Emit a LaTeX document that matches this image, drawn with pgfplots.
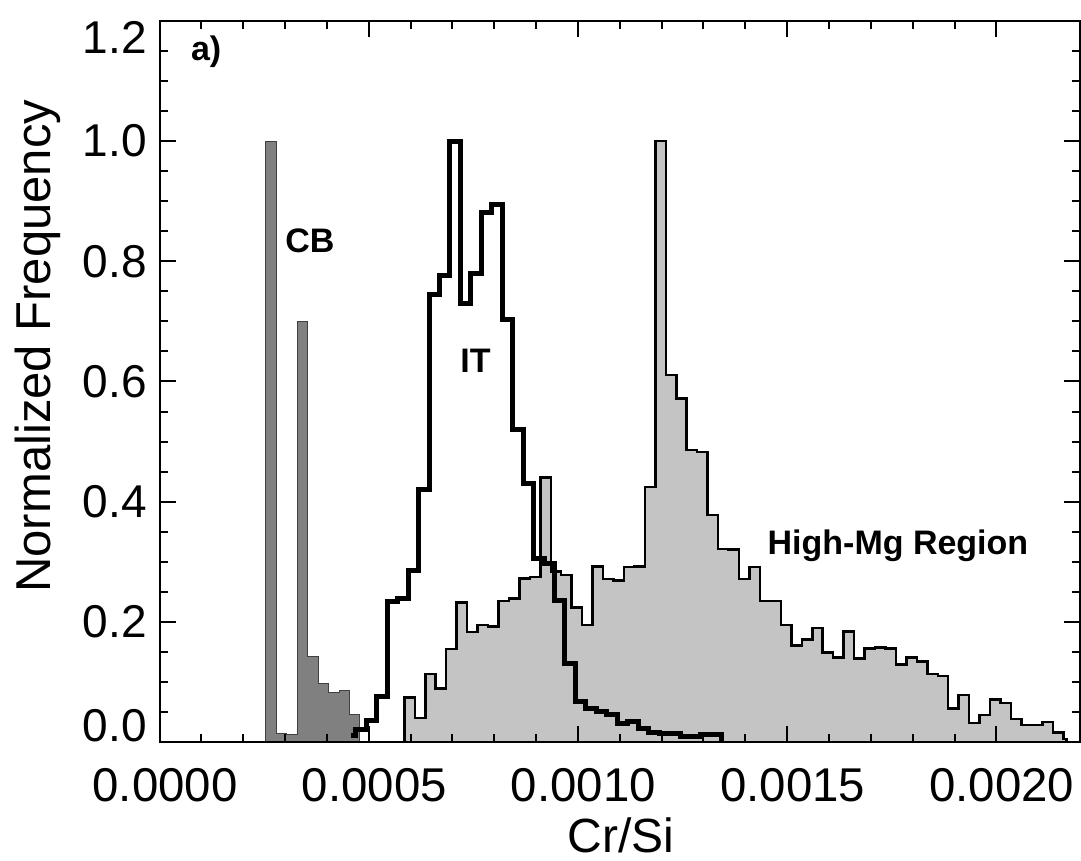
\documentclass[border=0pt]{standalone}
\usepackage{fontspec}
\setmainfont{Liberation Sans}
\usepackage{pgfplots}
\pgfplotsset{compat=1.18}
\definecolor{cbgray}{RGB}{128,128,128}
\definecolor{hmgray}{RGB}{196,196,196}
\begin{document}
\begin{tikzpicture}
\useasboundingbox (0,0) rectangle (540.5pt,430.5pt);
\begin{axis}[
  at={(79.8pt,59.5pt)}, anchor=south west,
  scale only axis, width=460.2pt, height=360.5pt,
  xmin=0, xmax=0.0022, ymin=0, ymax=1.2,
  axis on top,
  axis line style={line width=1pt},
  tick style={line width=1pt, black},
  major tick length=8pt, minor tick length=4pt,
  xtick={0,0.0005,0.001,0.0015,0.002},
  xticklabels={0.0000,0.0005,0.0010,0.0015,0.0020},
  minor x tick num=4,
  scaled x ticks=false,
  ytick={0,0.2,0.4,0.6,0.8,1.0,1.2},
  yticklabels={,0.2,0.4,0.6,0.8,1.0,},
  minor y tick num=3,
  xticklabel style={font=\fontsize{23.7}{28}\selectfont, anchor=base, yshift=-29.85pt, xshift=2.75pt, inner sep=0pt},
  yticklabel style={font=\fontsize{23}{28}\selectfont, anchor=east, inner sep=0pt, xshift=-6.3pt},
  xlabel={Cr/Si}, ylabel={Normalized Frequency},
  every axis x label/.style={at={(axis description cs:0.5013,-0.1526)}, anchor=base, font=\fontsize{24}{28}\selectfont},
  every axis y label/.style={at={(axis description cs:-0.1321,0.549)}, anchor=center, rotate=90, font=\fontsize{24.5}{28}\selectfont},
]
% CB
\addplot[const plot, fill=cbgray, draw=black!75, line width=0.5pt] coordinates {
(0.000254,0) (0.000254,1.0) (0.000279,0.014) (0.000304,0.012) (0.000329,0.70)
(0.000354,0.142) (0.000379,0.098) (0.000404,0.083) (0.000429,0.085) (0.000454,0.046) (0.000479,0)};
% High-Mg region
\addplot[const plot, fill=hmgray, draw=black, line width=1.25pt, line join=miter] coordinates {
(0.000585,0) (0.000585,0.074) (0.000610,0.040) (0.000635,0.113) (0.000660,0.089)
(0.000685,0.155) (0.000710,0.2325) (0.000735,0.183) (0.000760,0.195) (0.000785,0.192)
(0.000810,0.235) (0.000835,0.239) (0.000860,0.272) (0.000885,0.275) (0.000910,0.440)
(0.000935,0.2835) (0.000960,0.278) (0.000985,0.224) (0.001010,0.195) (0.001035,0.292)
(0.001060,0.271) (0.001085,0.2685) (0.001110,0.291) (0.001135,0.292) (0.001160,0.424)
(0.001185,1.000) (0.001210,0.611) (0.001235,0.572) (0.001260,0.486) (0.001285,0.483)
(0.001310,0.378) (0.001335,0.321) (0.001360,0.320) (0.001385,0.271) (0.001410,0.291)
(0.001435,0.235) (0.001460,0.235) (0.001485,0.195) (0.001510,0.161) (0.001535,0.171)
(0.001560,0.190) (0.001585,0.149) (0.001610,0.141) (0.001635,0.184) (0.001660,0.139)
(0.001685,0.156) (0.001710,0.157) (0.001735,0.156) (0.001760,0.129) (0.001785,0.141)
(0.001810,0.134) (0.001835,0.113) (0.001860,0.110) (0.001885,0.056) (0.001910,0.078)
(0.001935,0.032) (0.001960,0.045) (0.001985,0.071) (0.002010,0.065) (0.002035,0.038)
(0.002060,0.028) (0.002085,0.028) (0.002110,0.033) (0.002135,0.016) (0.002160,0.005)
(0.002168,0)};
% IT
\addplot[const plot, draw=black, line width=2.5pt, line join=miter] coordinates {
(0.0004575,0.010) (0.000469,0.020) (0.000494,0.035) (0.000519,0.075) (0.000544,0.234)
(0.000569,0.238) (0.000594,0.285) (0.000619,0.42) (0.000644,0.744) (0.000669,0.776)
(0.000694,1.000) (0.000719,0.730) (0.000744,0.779) (0.000769,0.882) (0.000794,0.895)
(0.000819,0.704) (0.000844,0.52) (0.000869,0.43) (0.000894,0.306) (0.000919,0.297)
(0.000944,0.236) (0.000969,0.131) (0.000994,0.068) (0.001019,0.055) (0.001044,0.051)
(0.001069,0.045) (0.001094,0.030) (0.001119,0.034) (0.001144,0.023) (0.001169,0.015)
(0.001194,0.014) (0.001219,0.014) (0.001244,0.009) (0.001269,0.009) (0.001294,0.012)
(0.001319,0.012) (0.001344,0)};
\node[anchor=base west, inner sep=0pt, font=\bfseries\fontsize{17}{20}\selectfont] at (axis cs:0.0000743,1.1335) {a)};
\node[anchor=base west, inner sep=0pt, font=\bfseries\fontsize{17}{20}\selectfont] at (axis cs:0.0002997,0.815) {CB};
\node[anchor=base west, inner sep=0pt, font=\bfseries\fontsize{17}{20}\selectfont] at (axis cs:0.000718,0.6147) {IT};
\node[anchor=base west, inner sep=0pt, font=\bfseries\fontsize{17}{20}\selectfont] at (axis cs:0.0014524,0.3113) {High-Mg Region};
\end{axis}
\node[anchor=south east, inner sep=0pt, font=\fontsize{23}{28}\selectfont] at (73.5pt,59.5pt) {0.0};
\node[anchor=north east, inner sep=0pt, font=\fontsize{23}{28}\selectfont] at (73.5pt,420pt) {1.2};
\end{tikzpicture}
\end{document}
